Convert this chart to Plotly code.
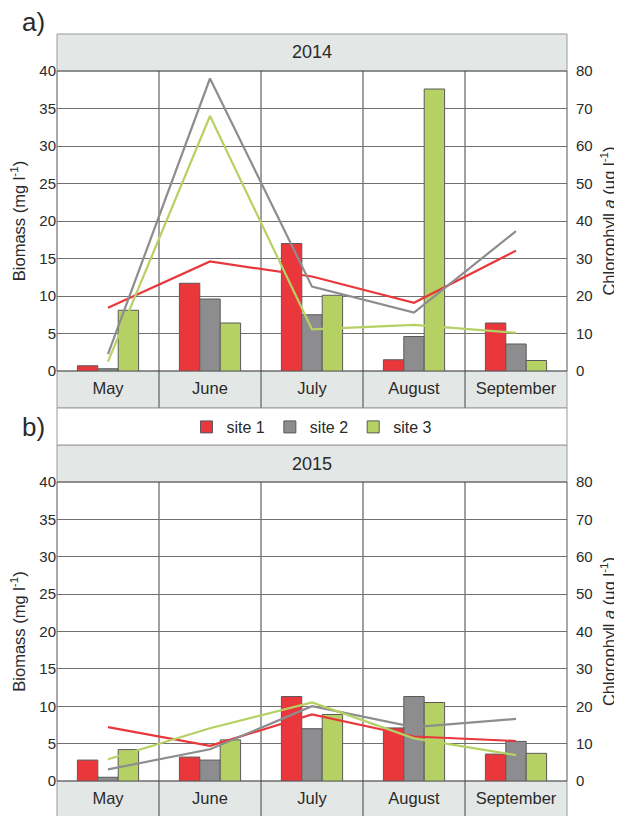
import plotly.graph_objects as go

# ---------------- data ----------------
months = ["May", "June", "July", "August", "September"]
sites = ["site 1", "site 2", "site 3"]

# Biomass (mg l-1), bars, left axis
biomass_2014_site1 = [0.7, 11.7, 17.0, 1.5, 6.4]
biomass_2014_site2 = [0.3, 9.6, 7.5, 4.6, 3.6]
biomass_2014_site3 = [8.1, 6.4, 10.1, 37.6, 1.4]

biomass_2015_site1 = [2.8, 3.2, 11.3, 7.1, 3.6]
biomass_2015_site2 = [0.5, 2.8, 7.0, 11.3, 5.3]
biomass_2015_site3 = [4.2, 5.5, 8.9, 10.5, 3.7]

# Chlorophyll a (ug l-1), lines, right axis
chl_2014_site1 = [16.9, 29.2, 25.2, 18.2, 32.1]
chl_2014_site2 = [4.5, 78.0, 22.5, 15.6, 37.3]
chl_2014_site3 = [2.5, 68.0, 11.1, 12.3, 10.2]

chl_2015_site1 = [14.4, 9.4, 17.8, 11.9, 10.7]
chl_2015_site2 = [3.1, 8.5, 20.0, 14.4, 16.6]
chl_2015_site3 = [5.8, 14.1, 21.0, 11.4, 6.9]

years = ["2014", "2015"]
left_ticks = [0, 5, 10, 15, 20, 25, 30, 35, 40]
right_ticks = [0, 10, 20, 30, 40, 50, 60, 70, 80]

# ---------------- styling ----------------
OFF = 8                      # page body margin of the html page
W, H = 622 - OFF, 816 - OFF
colors = ["#e9373c", "#8d8d8f", "#b6d163"]
strip_fill = "#e3e7e6"
frame_col = "#9a9a9a"
FONT = "Liberation Sans, Arial, sans-serif"
TXT = "#2a2a2a"


def py(y):
    """window pixel row -> paper fraction"""
    return 1 - (y - OFF) / H


def px(x):
    """window pixel column -> paper fraction (plot spans 57..567)"""
    return (x - 57) / (567 - 57)


xs = list(range(len(months)))

fig = go.Figure()

bio = [
    [biomass_2014_site1, biomass_2014_site2, biomass_2014_site3],
    [biomass_2015_site1, biomass_2015_site2, biomass_2015_site3],
]
chl = [
    [chl_2014_site1, chl_2014_site2, chl_2014_site3],
    [chl_2015_site1, chl_2015_site2, chl_2015_site3],
]
axes = [("x", "y", "y2"), ("x2", "y3", "y4")]

for p in range(2):
    xa, yl, yr = axes[p]
    for s in range(3):
        fig.add_trace(go.Bar(
            x=xs, y=bio[p][s], name=sites[s], legendgroup=sites[s],
            showlegend=(p == 0),
            marker=dict(color=colors[s], line=dict(color="#5a5a5a", width=1)),
            xaxis=xa, yaxis=yl,
        ))
    for s in range(3):
        fig.add_trace(go.Scatter(
            x=xs, y=chl[p][s], mode="lines", name=sites[s], legendgroup=sites[s],
            showlegend=False, line=dict(color=colors[s], width=2.2),
            xaxis=xa, yaxis=yr,
        ))

# panel geometry (window pixels from top)
panels = [
    dict(head=(34, 71), plot=(71, 371), strip=(371, 408)),
    dict(head=(445, 482), plot=(482, 781), strip=(781, 820)),
]

shapes = []
annotations = []
for p, g in enumerate(panels):
    xa = axes[p][0]
    shapes.append(dict(type="rect", xref="paper", yref="paper", x0=0, x1=1,
                       y0=py(g["head"][1]), y1=py(g["head"][0]),
                       fillcolor=strip_fill, line=dict(color=frame_col, width=1), layer="below"))
    shapes.append(dict(type="rect", xref="paper", yref="paper", x0=0, x1=1,
                       y0=py(g["strip"][1]), y1=py(g["strip"][0]),
                       fillcolor=strip_fill, line=dict(color=frame_col, width=1), layer="below"))
    shapes.append(dict(type="rect", xref="paper", yref="paper", x0=0, x1=1,
                       y0=py(g["plot"][1]), y1=py(g["plot"][0]),
                       fillcolor="rgba(0,0,0,0)", line=dict(color="#555555", width=1), layer="below"))
    for b in [0.5, 1.5, 2.5, 3.5]:
        shapes.append(dict(type="line", xref=xa, yref="paper", x0=b, x1=b,
                           y0=py(g["strip"][1]), y1=py(g["plot"][0]),
                           line=dict(color="#444444", width=1), layer="below"))
    annotations.append(dict(text=years[p], xref="paper", yref="paper", x=0.5,
                            y=py((g["head"][0] + g["head"][1]) / 2), showarrow=False,
                            font=dict(size=18, color=TXT, family=FONT),
                            xanchor="center", yanchor="middle"))

shapes.append(dict(type="rect", xref="paper", yref="paper", x0=0, x1=1,
                   y0=py(445), y1=py(408), fillcolor="white",
                   line=dict(color=frame_col, width=1), layer="below"))

annotations.append(dict(text="a)", xref="paper", yref="paper", x=px(33), y=py(22),
                        showarrow=False, font=dict(size=26, color=TXT, family=FONT),
                        xanchor="center", yanchor="middle"))
annotations.append(dict(text="b)", xref="paper", yref="paper", x=px(33), y=py(427),
                        showarrow=False, font=dict(size=26, color=TXT, family=FONT),
                        xanchor="center", yanchor="middle"))

xcommon = dict(domain=[0, 1], range=[-0.5, 4.5], tickmode="array", tickvals=xs,
               ticktext=months, showgrid=False, zeroline=False, showline=False,
               ticks="", tickfont=dict(size=16.5, color=TXT, family=FONT),
               ticklabelstandoff=5)
ylcommon = dict(range=[0, 40], tickmode="array", tickvals=left_ticks,
                gridcolor="#707070", gridwidth=1, zeroline=False, showline=False,
                ticks="", tickfont=dict(size=15, color=TXT, family=FONT),
                ticklabelstandoff=0,
                title=dict(text="Biomass (mg l<sup>-1</sup>)",
                           font=dict(size=16.5, color=TXT, family=FONT), standoff=12))
yrcommon = dict(range=[0, 80], tickmode="array", tickvals=right_ticks,
                showgrid=False, zeroline=False, showline=False, side="right",
                ticks="", tickfont=dict(size=15, color=TXT, family=FONT),
                ticklabelstandoff=8,
                title=dict(text="Chlorophyll <i>a</i> (µg l<sup>-1</sup>)",
                           font=dict(size=16.5, color=TXT, family=FONT), standoff=11))

fig.update_layout(
    width=W, height=H,
    margin=dict(l=57 - OFF, r=W - (567 - OFF), t=0, b=0, autoexpand=False),
    paper_bgcolor="white", plot_bgcolor="white",
    font=dict(family=FONT, color=TXT),
    barmode="group", bargap=0.4, bargroupgap=0,
    showlegend=True,
    legend=dict(orientation="h", x=0.5, xanchor="center", y=py(427), yanchor="middle",
                font=dict(size=16, color=TXT, family=FONT), bgcolor="rgba(0,0,0,0)",
                itemwidth=30),
    xaxis=dict(**xcommon, anchor="y"),
    yaxis=dict(**ylcommon, domain=[py(371), py(71)], anchor="x"),
    yaxis2=dict(**yrcommon, overlaying="y", anchor="x"),
    xaxis2=dict(**xcommon, anchor="y3"),
    yaxis3=dict(**ylcommon, domain=[py(781), py(482)], anchor="x2"),
    yaxis4=dict(**yrcommon, overlaying="y3", anchor="x2"),
    shapes=shapes,
    annotations=annotations,
)

fig.write_html("out.html")
